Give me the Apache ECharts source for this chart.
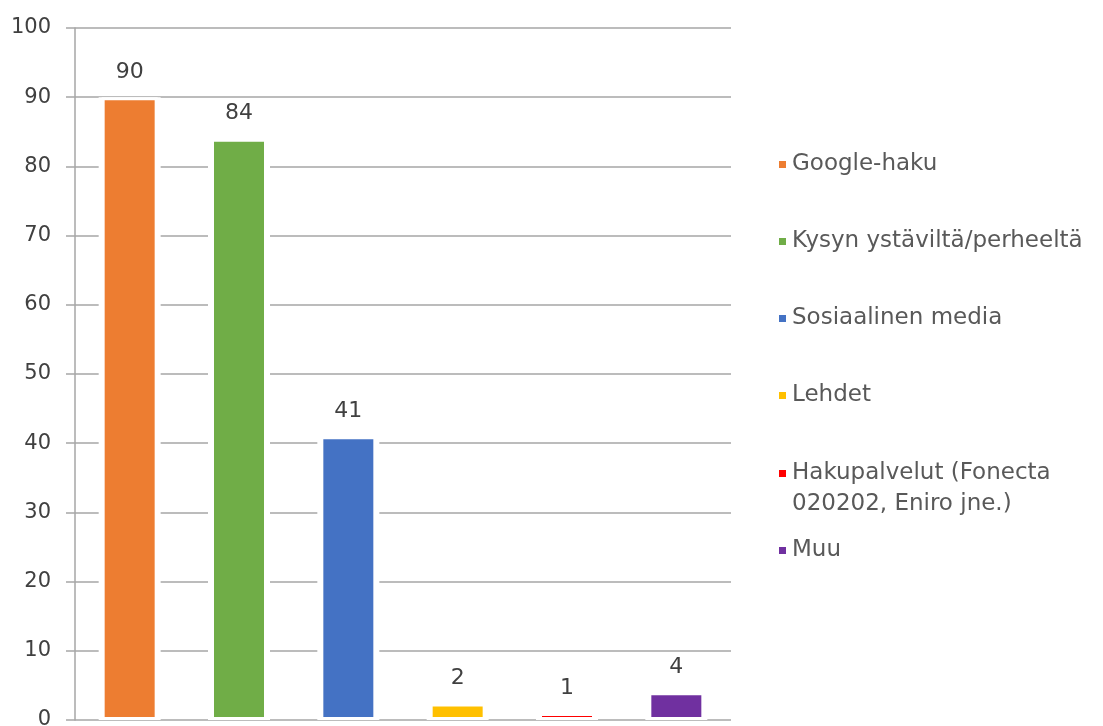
<!DOCTYPE html>
<html>
<head>
<meta charset="utf-8">
<script src="https://cdn.jsdelivr.net/npm/echarts@6/dist/echarts.min.js"></script>
<style>
  html, body { margin: 0; padding: 0; background: #fff; }
  #chart { width: 1103px; height: 726px; }
</style>
</head>
<body>
<div id="chart"></div>
<script>
// categories (legend names) and values
var names = ['Google-haku', 'Kysyn ystäviltä/perheeltä', 'Sosiaalinen media', 'Lehdet',
             'Hakupalvelut (Fonecta 020202, Eniro jne.)', 'Muu'];
var values = [90, 84, 41, 2.4, 1, 4];
var colors = ['#ED7D31', '#70AD47', '#4472C4', '#FFC000', '#FF0000', '#7030A0'];
var yTicks = [0, 10, 20, 30, 40, 50, 60, 70, 80, 90, 100];

var chart = echarts.init(document.getElementById('chart'));
var font = 'DejaVu Sans';

var series = [];
for (var i = 0; i < names.length; i++) {
    var d = [];
    for (var j = 0; j < names.length; j++) {
        d.push(j == i ? values[i] : '-');
    }
    series.push({
        type: 'bar',
        name: names[i],
        stack: 'all',
        barWidth: 56,
        z: 3,
        data: d,
        itemStyle: {
            color: colors[i],
            borderColor: '#fff',
            borderWidth: 3
        },
        label: {
            show: true,
            position: 'top',
            distance: 14,
            fontFamily: font,
            fontSize: 22,
            color: '#404040',
            formatter: function (p) { return Math.round(p.value); }
        }
    });
}
// white gap round each bar, breaks the gridlines like the original
series.push({
    type: 'bar',
    name: 'gap',
    xAxisIndex: 1,
    barWidth: 62,
    z: 2,
    silent: true,
    data: values,
    itemStyle: { color: '#fff' }
});

var legendText = {
    fontFamily: font,
    fontSize: 23,
    color: '#595959',
    lineHeight: 31
};

var option = {
    animation: false,
    backgroundColor: '#fff',
    grid: { left: 75, width: 656, top: 28, bottom: 6, containLabel: false, outerBoundsMode: 'none' },
    legend: [
        {
            orient: 'vertical',
            left: 777, top: 149, padding: 0,
            itemGap: 46, itemWidth: 9, itemHeight: 9,
            icon: 'rect',
            data: names.slice(0, 4),
            textStyle: legendText
        },
        {
            orient: 'vertical',
            left: 777, top: 427, padding: 0,
            itemWidth: 9, itemHeight: 9,
            icon: 'rect',
            data: [names[4]],
            formatter: function () { return ' \nHakupalvelut (Fonecta\n020202, Eniro jne.)'; },
            textStyle: legendText
        },
        {
            orient: 'vertical',
            left: 777, top: 535, padding: 0,
            itemWidth: 9, itemHeight: 9,
            icon: 'rect',
            data: [names[5]],
            textStyle: legendText
        }
    ],
    xAxis: [
        {
            type: 'category',
            data: names,
            axisLine: { show: false },
            axisTick: { show: false },
            axisLabel: { show: false }
        },
        {
            type: 'category',
            data: names,
            show: false
        }
    ],
    yAxis: {
        type: 'value',
        min: yTicks[0],
        max: yTicks[yTicks.length - 1],
        interval: 10,
        axisLine: { show: true, lineStyle: { color: '#a6a6a6', width: 1.5 } },
        axisTick: { show: true, length: 9, lineStyle: { color: '#a6a6a6', width: 1.5 } },
        splitLine: { lineStyle: { color: '#a6a6a6', width: 1.5 } },
        axisLabel: {
            margin: 24,
            fontFamily: font,
            fontSize: 21,
            color: '#404040'
        }
    },
    series: series
};

chart.setOption(option);
</script>
</body>
</html>
